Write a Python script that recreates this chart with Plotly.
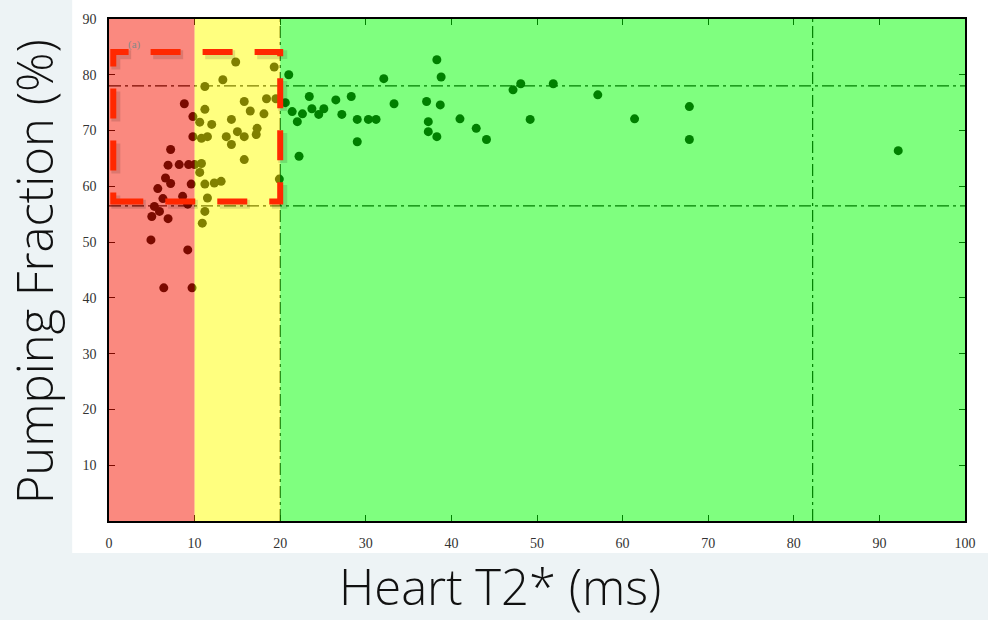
import plotly.graph_objects as go

# Heart T2* (ms) and Pumping Fraction (%)
t2_red = [8.8, 9.8, 9.8, 7.2, 6.9, 8.2, 9.3, 10.0, 9.6, 5.7, 6.3, 8.6, 9.2, 5.3,
          5.0, 6.9, 5.9, 4.9, 9.2, 6.4, 9.7, 7.2, 6.6]
pf_red = [74.8, 72.5, 68.9, 66.6, 63.8, 63.9, 63.9, 63.9, 60.4, 59.6, 57.8, 58.2, 56.8, 56.4,
          54.6, 54.2, 55.5, 50.4, 48.6, 41.8, 41.8, 60.5, 61.5]

t2_yellow = [14.8, 19.3, 11.2, 13.3, 15.8, 11.2, 18.4, 19.5, 12.0, 14.3, 15.0, 17.3, 18.1,
             11.5, 13.7, 15.8, 10.8, 14.3, 17.2, 15.8, 10.8, 11.2, 13.1, 11.5, 11.2, 10.9,
             19.9, 12.3, 10.6, 10.6, 16.5]
pf_yellow = [82.3, 81.4, 77.9, 79.1, 75.2, 73.8, 75.7, 75.7, 71.1, 72.0, 69.8, 70.4, 73.0,
             68.9, 68.9, 68.9, 68.6, 67.5, 69.3, 64.8, 64.1, 60.4, 60.9, 57.9, 55.5, 53.4,
             61.3, 60.6, 62.5, 71.5, 73.5]

t2_green = [21.0, 38.3, 32.1, 38.8, 48.1, 47.2, 51.9, 57.1, 67.8, 67.8, 61.4, 49.2, 44.1,
            42.9, 41.0, 37.1, 38.7, 37.3, 37.3, 38.3, 33.3, 29.0, 30.3, 31.2, 29.0, 28.3,
            26.5, 27.2, 25.1, 23.4, 23.7, 22.6, 21.4, 22.0, 24.5, 22.2, 92.2, 20.6]
pf_green = [80.0, 82.7, 79.3, 79.6, 78.4, 77.3, 78.4, 76.4, 74.3, 68.4, 72.1, 72.0, 68.4,
            70.4, 72.1, 75.2, 74.6, 71.6, 69.8, 68.9, 74.8, 72.0, 72.0, 72.0, 68.0, 76.1,
            75.5, 72.9, 73.9, 76.1, 73.9, 73.0, 73.4, 71.6, 72.9, 65.4, 66.4, 75.0]

x_ticks = [0, 10, 20, 30, 40, 50, 60, 70, 80, 90, 100]
y_ticks = [10, 20, 30, 40, 50, 60, 70, 80, 90]

zone_edges = [0, 10, 20, 100]
zone_colors = ["rgb(245,20,0)", "rgb(255,255,0)", "rgb(0,255,0)"]
ref_y = [78.0, 56.5]
ref_x = [20.0, 82.2]
highlight = dict(x0=0.5, x1=20.0, y0=57.3, y1=84.1)

t2_all = t2_red + t2_yellow + t2_green
pf_all = pf_red + pf_yellow + pf_green

fig = go.Figure()
fig.add_trace(go.Scatter(
    x=t2_all, y=pf_all, mode="markers",
    marker=dict(color="black", size=9, line=dict(width=0)),
    showlegend=False, hoverinfo="skip"))

shapes = []
# white chart box on the slide
shapes.append(dict(type="rect", xref="paper", yref="paper",
                   x0=-0.043, x1=1.03, y0=-0.0635, y1=1.05,
                   fillcolor="white", line=dict(width=0), layer="below"))
dash = "12px,4px,3px,4px"
for yv in ref_y:
    shapes.append(dict(type="line", xref="x", yref="y", x0=0, x1=100, y0=yv, y1=yv,
                       line=dict(color="black", width=1.2, dash=dash), layer="below"))
for xv in ref_x:
    shapes.append(dict(type="line", xref="x", yref="y", x0=xv, x1=xv, y0=0, y1=90,
                       line=dict(color="black", width=1.2, dash=dash), layer="below"))
# translucent zone overlays
for i, c in enumerate(zone_colors):
    shapes.append(dict(type="rect", xref="x", yref="y",
                       x0=zone_edges[i], x1=zone_edges[i + 1], y0=0, y1=90,
                       fillcolor=c, opacity=0.5, line=dict(width=0), layer="above"))
# shadow of highlight rectangle
shapes.append(dict(type="rect", xref="x", yref="y",
                   x0=highlight["x0"] + 0.3, x1=highlight["x1"] + 0.3,
                   y0=highlight["y0"] - 0.5, y1=highlight["y1"] - 0.5,
                   line=dict(color="rgba(0,0,0,0.12)", width=9, dash="30px,22px"),
                   fillcolor="rgba(0,0,0,0)", layer="above"))
shapes.append(dict(type="rect", xref="x", yref="y",
                   x0=highlight["x0"], x1=highlight["x1"],
                   y0=highlight["y0"], y1=highlight["y1"],
                   line=dict(color="rgb(255,40,0)", width=6, dash="30px,22px"),
                   fillcolor="rgba(0,0,0,0)", layer="above"))

tickfont = dict(family="Liberation Serif, DejaVu Serif, serif", size=14, color="#333")
titlefont = dict(family="Open Sans, Lato, sans-serif", size=49, color="#111", weight=300)

fig.update_layout(
    width=988, height=620,
    margin=dict(l=109, r=19, t=17, b=99),
    paper_bgcolor="#edf3f5",
    plot_bgcolor="white",
    shapes=shapes,
    xaxis=dict(range=[0, 100], tickvals=x_ticks, ticktext=[str(v) for v in x_ticks],
               ticks="inside", ticklen=6, tickcolor="black", mirror="ticks",
               showline=True, linecolor="black", linewidth=1.5, showgrid=False,
               zeroline=False, tickfont=tickfont, ticklabelstandoff=8),
    yaxis=dict(range=[0, 90], tickvals=y_ticks, ticktext=[str(v) for v in y_ticks],
               ticks="inside", ticklen=6, tickcolor="black", mirror="ticks",
               showline=True, linecolor="black", linewidth=1.5, showgrid=False,
               zeroline=False, tickfont=tickfont, ticklabelstandoff=8),
    annotations=[
        dict(text="Pumping Fraction (%)", xref="paper", yref="paper",
             x=-0.0872, y=0.496, textangle=-90, showarrow=False,
             font=titlefont, xanchor="center", yanchor="middle"),
        dict(text="Heart T2* (ms)", xref="paper", yref="paper",
             x=0.457, y=-0.129, showarrow=False,
             font=titlefont, xanchor="center", yanchor="middle"),
        dict(text="(a)", xref="x", yref="y", x=3.0, y=85.5, showarrow=False,
             font=dict(family="Liberation Serif, serif", size=11, color="#888")),
    ],
)

fig.write_html("out.html",
               config={"displayModeBar": False},
               post_script="document.body.style.margin='0';"
                           "document.body.style.background='#edf3f5';")
